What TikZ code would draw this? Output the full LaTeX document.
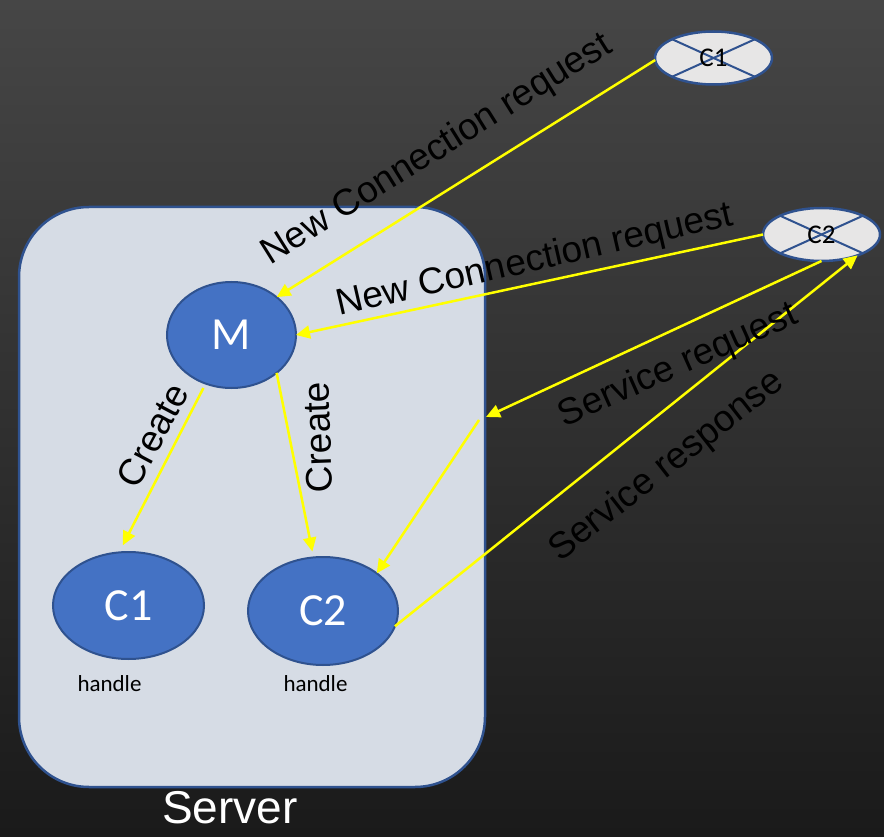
\documentclass[tikz,border=0pt]{standalone}
\usepackage{fontspec}
\setmainfont{Liberation Sans}
\newfontfamily\calib{Carlito}
\usetikzlibrary{shapes.geometric,arrows.meta}
\definecolor{bgtop}{HTML}{464646}
\definecolor{bgbot}{HTML}{1A1A1A}
\definecolor{boxfill}{HTML}{D6DCE5}
\definecolor{edge}{HTML}{2F528F}
\definecolor{procfill}{HTML}{4472C4}
\definecolor{clientfill}{HTML}{E7E6E6}
\definecolor{msg}{HTML}{FFFF00}
\tikzset{
  proc/.style={ellipse, draw=edge, fill=procfill, line width=2pt, inner sep=0pt, outer sep=0pt,
    text=white, font=\calib\fontsize{46}{50}\selectfont},
  client/.style={ellipse, draw=edge, fill=clientfill, line width=2.5pt, inner sep=0pt, outer sep=0pt,
    minimum width=117pt, minimum height=53pt},
  clientname/.style={inner sep=0pt, text=black, font=\calib\fontsize{27}{30}\selectfont},
  cross/.style={draw=edge, line width=2pt},
  conn/.style={draw=msg, line width=2.5pt, -{Triangle[length=14pt,width=13pt]}},
  lbl/.style={text=black, inner sep=0pt, font=\fontsize{37}{41}\selectfont},
  note/.style={text=black, inner sep=0pt, font=\calib\fontsize{23}{26}\selectfont},
}
\begin{document}
\begin{tikzpicture}[x=1pt, y=-1pt]
  % backdrop
  \shade[top color=bgtop, bottom color=bgbot] (0,0) rectangle (884,837);
  \useasboundingbox (0,0) rectangle (884,837);

  % server container
  \node[draw=edge, fill=boxfill, line width=2.5pt, rounded corners=70pt,
        minimum width=466pt, minimum height=580pt, inner sep=0pt] (server) at (252,497) {};
  \node[text=white, font=\fontsize{46}{50}\selectfont, inner sep=0pt] (servername) at (230,808) {Server};

  % processes inside the server
  \node[proc, minimum width=129pt, minimum height=106pt] (m) at (231.5,335) {M};
  \node[proc, minimum width=151pt, minimum height=107pt] (c1) at (128.5,605.5) {C1};
  \node[proc, minimum width=150pt, minimum height=108pt] (c2) at (323,611) {C2};
  \node[note] (h1) at (109.5,684) {handle};
  \node[note] (h2) at (315.5,684) {handle};

  % remote clients, crossed out
  \node[client] (c1s) at (713.5,58) {};
  \draw[cross] (c1s.north west) -- (c1s.south east);
  \draw[cross] (c1s.south west) -- (c1s.north east);
  \node[clientname] (c1sname) at (c1s) {C1};
  \node[client] (c2s) at (821.5,234.5) {};
  \draw[cross] (c2s.north west) -- (c2s.south east);
  \draw[cross] (c2s.south west) -- (c2s.north east);
  \node[clientname] (c2sname) at (c2s) {C2};

  % points where the service request meets the server wall
  \coordinate (sreq) at (486,417);
  \coordinate (sfwd) at (479,420);

  % messages
  \draw[conn] (c1s.182) -- (m.40);
  \draw[conn] (c2s.west) -- (m.east);
  \draw[conn] (c2s.south) -- (sreq);
  \draw[conn] (sfwd) -- (c2.35);
  \draw[conn] (c2.-12) -- (c2s.-30);
  \draw[conn, shorten <=5pt, shorten >=8pt] (m.-118) -- (c1.100);
  \draw[conn, shorten >=6pt] (m.-40) -- (c2.100);

  % message labels
  \node[lbl, rotate=32] (l1) at (437,150) {New Connection request};
  \node[lbl, rotate=13] (l2) at (535,261) {New Connection request};
  \node[lbl, rotate=24] (l3) at (678.5,366) {Service request};
  \node[lbl, rotate=38] (l4) at (667,466.5) {Service response};
  \node[lbl, rotate=62] (l5) at (152.5,435) {Create};
  \node[lbl, rotate=92] (l6) at (318,437.5) {Create};
\end{tikzpicture}
\end{document}
